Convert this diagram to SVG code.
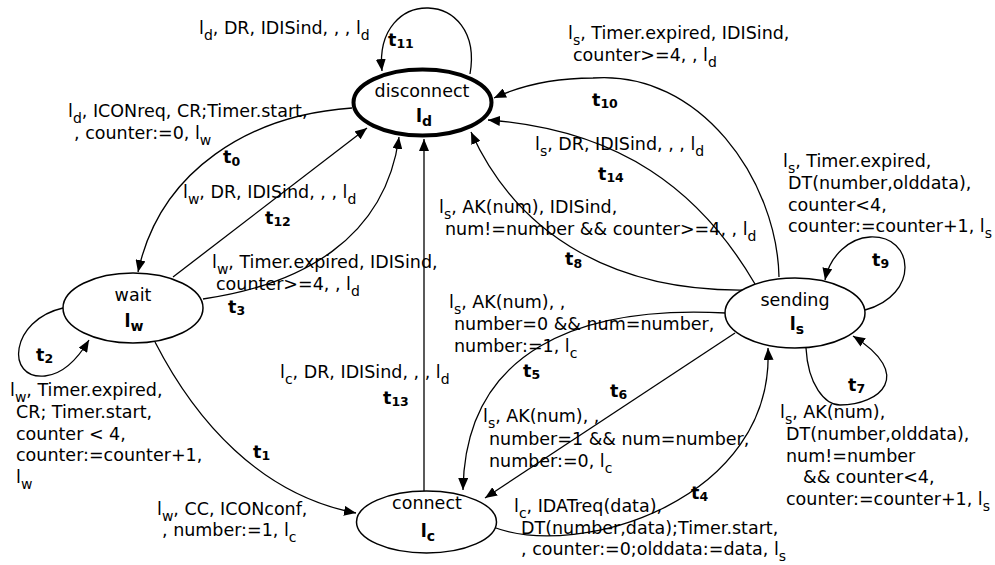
<svg xmlns="http://www.w3.org/2000/svg" width="995" height="565" viewBox="0 0 995 565">
<defs>
<marker id="ah" viewBox="0 0 12 10" markerWidth="12" markerHeight="10" refX="12" refY="5" orient="auto" markerUnits="userSpaceOnUse">
<path d="M0,0 L12,5 L0,10 z" fill="#000"/>
</marker>
</defs>
<style>
text{font-family:"DejaVu Sans","Liberation Sans",sans-serif;fill:#000}
.lb{font-size:17.5px}
.s{font-size:14px}
.t{font-size:17.5px;font-weight:bold}
.ts{font-size:12.5px;font-weight:bold}
.nt{font-size:17.5px;text-anchor:middle}
.nb{font-size:17.5px;font-weight:bold;text-anchor:middle}
.nbs{font-size:14px;font-weight:bold}
.node{fill:#fff;stroke:#000;stroke-width:1.5}
.init{fill:#fff;stroke:#000;stroke-width:4}
.e{fill:none;stroke:#000;stroke-width:1.3;marker-end:url(#ah)}
</style>
<rect width="995" height="565" fill="#fff"/>
<g id="connectors">
<path id="c-t0" class="e" d="M352,108 C250,115 160,170 138,272"/>
<path id="c-t1" class="e" d="M155,342 C195,420 260,495 356,513"/>
<path id="c-t2" class="e" d="M63,308 C10,320 5,380 45,376 C65,374 80,355 89,340"/>
<path id="c-t3" class="e" d="M203,299 C300,285 385,240 399,137"/>
<path id="c-t12" class="e" d="M173,277 L367,128"/>
<path id="c-t13" class="e" d="M424,491 L424,139"/>
<path id="c-t11" class="e" d="M470,74 C485,-12 373,-15 382,71"/>
<path id="c-t10" class="e" d="M779,277 C777,180 700,70 593,78 C555,78 520,86 494,98"/>
<path id="c-t14" class="e" d="M755,284 C700,190 620,130 488,120"/>
<path id="c-t8" class="e" d="M747,290 C620,292 520,240 471,132"/>
<path id="c-t9" class="e" d="M865,310 C920,295 915,235 870,237 C850,238 830,255 825,280"/>
<path id="c-t7" class="e" d="M806,348 C808,385 825,405 840,405 C880,405 915,375 853,336"/>
<path id="c-t5" class="e" d="M726,313 C580,305 465,350 463,490"/>
<path id="c-t6" class="e" d="M735,333 L485,498"/>
<path id="c-t4" class="e" d="M493,527 C580,560 775,500 768,348"/>
</g>
<g id="n-disconnect">
<ellipse class="init" cx="422.5" cy="102.5" rx="69" ry="33"/>
<text class="nt" x="422" y="97">disconnect</text>
<text class="nb" x="424" y="122">l<tspan class="nbs" dy="4">d</tspan></text>
</g>
<g id="n-wait">
<ellipse class="node" cx="133" cy="308" rx="70" ry="35"/>
<text class="nt" x="133" y="301">wait</text>
<text class="nb" x="134" y="327">l<tspan class="nbs" dy="4">w</tspan></text>
</g>
<g id="n-connect">
<ellipse class="node" cx="426.5" cy="522" rx="70" ry="31"/>
<text class="nt" x="427" y="509">connect</text>
<text class="nb" x="428" y="537">l<tspan class="nbs" dy="4">c</tspan></text>
</g>
<g id="n-sending">
<ellipse class="node" cx="795" cy="313" rx="70" ry="35"/>
<text class="nt" x="795" y="306">sending</text>
<text class="nb" x="797" y="330">l<tspan class="nbs" dy="4">s</tspan></text>
</g>
<g id="labels">
<text class="lb" x="199" y="34">l<tspan class="s" dy="5.5">d</tspan><tspan dy="-5.5">, DR, IDISind, , , l</tspan><tspan class="s" dy="5.5">d</tspan></text>
<text class="t" x="388" y="45.5">t<tspan class="ts" dy="2.5">11</tspan></text>

<text class="lb" x="68" y="117">l<tspan class="s" dy="5.5">d</tspan><tspan dy="-5.5">, ICONreq, CR;Timer.start,</tspan></text>
<text class="lb" x="74" y="139">, counter:=0, l<tspan class="s" dy="5.5">w</tspan></text>
<text class="t" x="223" y="163">t<tspan class="ts" dy="2.5">0</tspan></text>

<text class="lb" x="183" y="198">l<tspan class="s" dy="5.5">w</tspan><tspan dy="-5.5">, DR, IDISind, , , l</tspan><tspan class="s" dy="5.5">d</tspan></text>
<text class="t" x="265" y="223.5">t<tspan class="ts" dy="2.5">12</tspan></text>

<text class="lb" x="212" y="268">l<tspan class="s" dy="5.5">w</tspan><tspan dy="-5.5">, Timer.expired, IDISind,</tspan></text>
<text class="lb" x="216" y="290">counter&gt;=4, , l<tspan class="s" dy="5.5">d</tspan></text>
<text class="t" x="228" y="312.5">t<tspan class="ts" dy="2.5">3</tspan></text>

<text class="t" x="36" y="360.5">t<tspan class="ts" dy="2.5">2</tspan></text>
<text class="lb" x="10" y="396">l<tspan class="s" dy="5.5">w</tspan><tspan dy="-5.5">, Timer.expired,</tspan></text>
<text class="lb" x="16" y="418">CR; Timer.start,</text>
<text class="lb" x="16" y="440">counter &lt; 4,</text>
<text class="lb" x="16" y="461">counter:=counter+1,</text>
<text class="lb" x="16" y="483">l<tspan class="s" dy="5.5">w</tspan></text>

<text class="lb" x="280" y="378">l<tspan class="s" dy="5.5">c</tspan><tspan dy="-5.5">, DR, IDISind, , , l</tspan><tspan class="s" dy="5.5">d</tspan></text>
<text class="t" x="383" y="403.5">t<tspan class="ts" dy="2.5">13</tspan></text>

<text class="t" x="253" y="457.5">t<tspan class="ts" dy="2.5">1</tspan></text>
<text class="lb" x="157" y="515">l<tspan class="s" dy="5.5">w</tspan><tspan dy="-5.5">, CC, ICONconf,</tspan></text>
<text class="lb" x="162" y="536">, number:=1, l<tspan class="s" dy="5.5">c</tspan></text>

<text class="lb" x="568" y="39">l<tspan class="s" dy="5.5">s</tspan><tspan dy="-5.5">, Timer.expired, IDISind,</tspan></text>
<text class="lb" x="573" y="61">counter&gt;=4, , l<tspan class="s" dy="5.5">d</tspan></text>
<text class="t" x="592" y="105.5">t<tspan class="ts" dy="2.5">10</tspan></text>

<text class="lb" x="535" y="150">l<tspan class="s" dy="5.5">s</tspan><tspan dy="-5.5">, DR, IDISind, , , l</tspan><tspan class="s" dy="5.5">d</tspan></text>
<text class="t" x="598" y="179.5">t<tspan class="ts" dy="2.5">14</tspan></text>

<text class="lb" x="439" y="213">l<tspan class="s" dy="5.5">s</tspan><tspan dy="-5.5">, AK(num), IDISind,</tspan></text>
<text class="lb" x="445" y="235">num!=number &amp;&amp; counter&gt;=4, , l<tspan class="s" dy="5.5">d</tspan></text>
<text class="t" x="565" y="265">t<tspan class="ts" dy="2.5">8</tspan></text>

<text class="lb" x="783" y="167">l<tspan class="s" dy="5.5">s</tspan><tspan dy="-5.5">, Timer.expired,</tspan></text>
<text class="lb" x="788" y="189">DT(number,olddata),</text>
<text class="lb" x="788" y="211">counter&lt;4,</text>
<text class="lb" x="788" y="232">counter:=counter+1, l<tspan class="s" dy="5.5">s</tspan></text>
<text class="t" x="872" y="265.5">t<tspan class="ts" dy="2.5">9</tspan></text>

<text class="lb" x="449" y="308">l<tspan class="s" dy="5.5">s</tspan><tspan dy="-5.5">, AK(num), ,</tspan></text>
<text class="lb" x="454" y="330">number=0 &amp;&amp; num=number,</text>
<text class="lb" x="454" y="352">number:=1, l<tspan class="s" dy="5.5">c</tspan></text>
<text class="t" x="523" y="376.5">t<tspan class="ts" dy="2.5">5</tspan></text>

<text class="t" x="610" y="396.5">t<tspan class="ts" dy="2.5">6</tspan></text>
<text class="lb" x="483" y="422">l<tspan class="s" dy="5.5">s</tspan><tspan dy="-5.5">, AK(num), ,</tspan></text>
<text class="lb" x="489" y="445">number=1 &amp;&amp; num=number,</text>
<text class="lb" x="489" y="467">number:=0, l<tspan class="s" dy="5.5">c</tspan></text>

<text class="t" x="691" y="498.5">t<tspan class="ts" dy="2.5">4</tspan></text>
<text class="lb" x="514" y="512">l<tspan class="s" dy="5.5">c</tspan><tspan dy="-5.5">, IDATreq(data),</tspan></text>
<text class="lb" x="521" y="534">DT(number,data);Timer.start,</text>
<text class="lb" x="521" y="555">, counter:=0;olddata:=data, l<tspan class="s" dy="5.5">s</tspan></text>

<text class="t" x="848" y="390.5">t<tspan class="ts" dy="2.5">7</tspan></text>
<text class="lb" x="780" y="418">l<tspan class="s" dy="5.5">s</tspan><tspan dy="-5.5">, AK(num),</tspan></text>
<text class="lb" x="786" y="440">DT(number,olddata),</text>
<text class="lb" x="786" y="462">num!=number</text>
<text class="lb" x="803" y="483">&amp;&amp; counter&lt;4,</text>
<text class="lb" x="786" y="505">counter:=counter+1, l<tspan class="s" dy="5.5">s</tspan></text>
</g>
</svg>
